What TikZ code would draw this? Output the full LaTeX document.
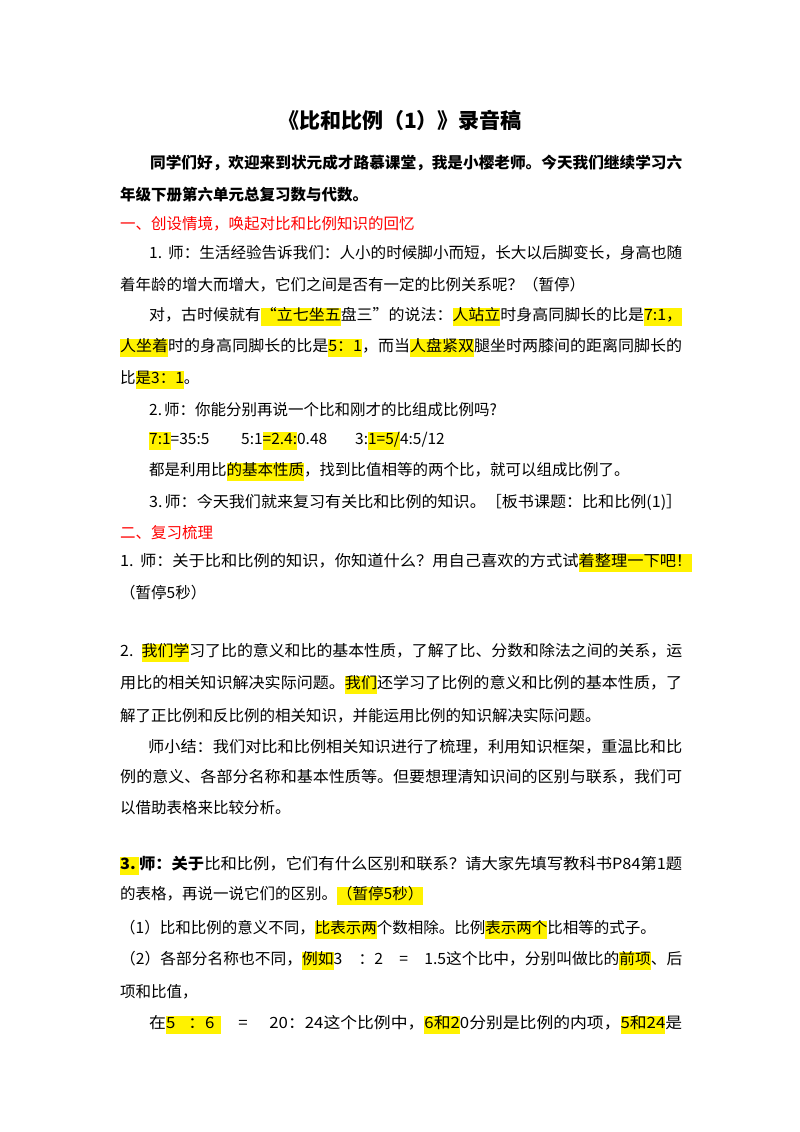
\documentclass[tikz,border=0pt]{standalone}
\usepackage{fontspec}
\usepackage{graphicx}
\setmainfont{Noto Sans CJK SC}
\newcommand{\hl}[1]{{\setlength{\fboxsep}{0pt}\colorbox{yellow}{\strut #1}}}
\newcommand{\fl}[2]{\resizebox{#1pt}{\height}{#2}}
\begin{document}
\begin{tikzpicture}[x=1pt,y=1pt,
  ln/.style={anchor=west,inner sep=0pt,font=\fontsize{15.5}{18}\selectfont},
  rd/.style={ln,text=red}]
\useasboundingbox[fill=white] (0,0) rectangle (800,-1132);
\node[font=\fontsize{21}{24}\selectfont\bfseries] (t) at (400,-120) {《比和比例（1）》录音稿};
\node[ln,font=\fontsize{15.5}{18}\selectfont\bfseries] (a1) at (150,-163) {\fl{532}{同学们好，欢迎来到状元成才路慕课堂，我是小樱老师。今天我们继续学习六}};
\node[ln,font=\fontsize{15.5}{18}\selectfont\bfseries] (a2) at (120,-195) {年级下册第六单元总复习数与代数。};
\node[rd] (h1) at (120,-224) {一、创设情境，唤起对比和比例知识的回忆};
\node[ln] (b1) at (149,-253) {\fl{533}{1.\kern6pt 师：生活经验告诉我们：人小的时候脚小而短，长大以后脚变长，身高也随}};
\node[ln] (b2) at (120,-285) {着年龄的增大而增大，它们之间是否有一定的比例关系呢？（暂停）};
\node[ln] (b3) at (149,-317) {\fl{533}{对，古时候就有\hl{“立七坐五}盘三”的说法：\hl{人站立}时身高同脚长的比是\hl{7:1，}}};
\node[ln] (b4) at (120,-348) {\fl{562}{\hl{人坐着}时的身高同脚长的比是\hl{5：1}，而当\hl{人盘紧双}腿坐时两膝间的距离同脚长的}};
\node[ln] (b5) at (120,-380) {比\hl{是3：1}。};
\node[ln] (c1) at (149,-410) {2.\kern2pt 师：你能分别再说一个比和刚才的比组成比例吗?};
\node[ln] (c2) at (149,-441) {\hl{7:1}=35:5};
\node[ln] (c3) at (241,-441) {5:1\hl{=2.4:}0.48};
\node[ln] (c4) at (355,-441) {3:\hl{1=5/}4:5/12};
\node[ln] (c5) at (149,-472) {都是利用比\hl{的基本性质}，找到比值相等的两个比，就可以组成比例了。};
\node[ln] (c6) at (149,-502) {\fl{533}{3.\kern2pt 师：今天我们就来复习有关比和比例的知识。［板书课题：比和比例(1)］}};
\node[rd] (h2) at (120,-533) {二、复习梳理};
\node[ln] (d1) at (120,-563) {\fl{572}{1.\kern6pt 师：关于比和比例的知识，你知道什么？用自己喜欢的方式试\hl{着整理一下吧！}}};
\node[ln] (d2) at (120,-593) {（暂停5秒）};
\node[ln] (e1) at (120,-653) {\fl{562}{2.\kern8pt\hl{我们学}习了比的意义和比的基本性质，了解了比、分数和除法之间的关系，运}};
\node[ln] (e2) at (120,-685) {\fl{562}{用比的相关知识解决实际问题。\hl{我们}还学习了比例的意义和比例的基本性质，了}};
\node[ln] (e3) at (120,-716) {解了正比例和反比例的相关知识，并能运用比例的知识解决实际问题。};
\node[ln] (e4) at (148,-747) {\fl{534}{师小结：我们对比和比例相关知识进行了梳理，利用知识框架，重温比和比}};
\node[ln] (e5) at (120,-777) {\fl{562}{例的意义、各部分名称和基本性质等。但要想理清知识间的区别与联系，我们可}};
\node[ln] (e6) at (120,-808) {以借助表格来比较分析。};
\node[ln] (f1) at (120,-866) {\fl{562}{\hl{\bfseries 3.\kern3pt}{\bfseries 师：关于}比和比例，它们有什么区别和联系？请大家先填写教科书P84第1题}};
\node[ln] (f2) at (120,-896) {的表格，再说一说它们的区别。\hl{（暂停5秒）}};
\node[ln] (f3) at (120,-930) {（1）比和比例的意义不同，\hl{比表示两}个数相除。比例\hl{表示两个}比相等的式子。};
\node[ln] (f4) at (120,-961) {\fl{562}{（2）各部分名称也不同，\hl{例如}3\kern16pt ：2\kern16pt =\kern16pt 1.5这个比中，分别叫做比的\hl{前项}、后}};
\node[ln] (f5) at (120,-992) {项和比值，};
\node[ln] (f6) at (149,-1025) {\fl{533}{在\hl{5\kern12pt ：6\kern6pt}\kern16pt =\kern20pt 20：24这个比例中，\hl{6和2}0分别是比例的内项，\hl{5和24}是}};
\end{tikzpicture}
\end{document}
